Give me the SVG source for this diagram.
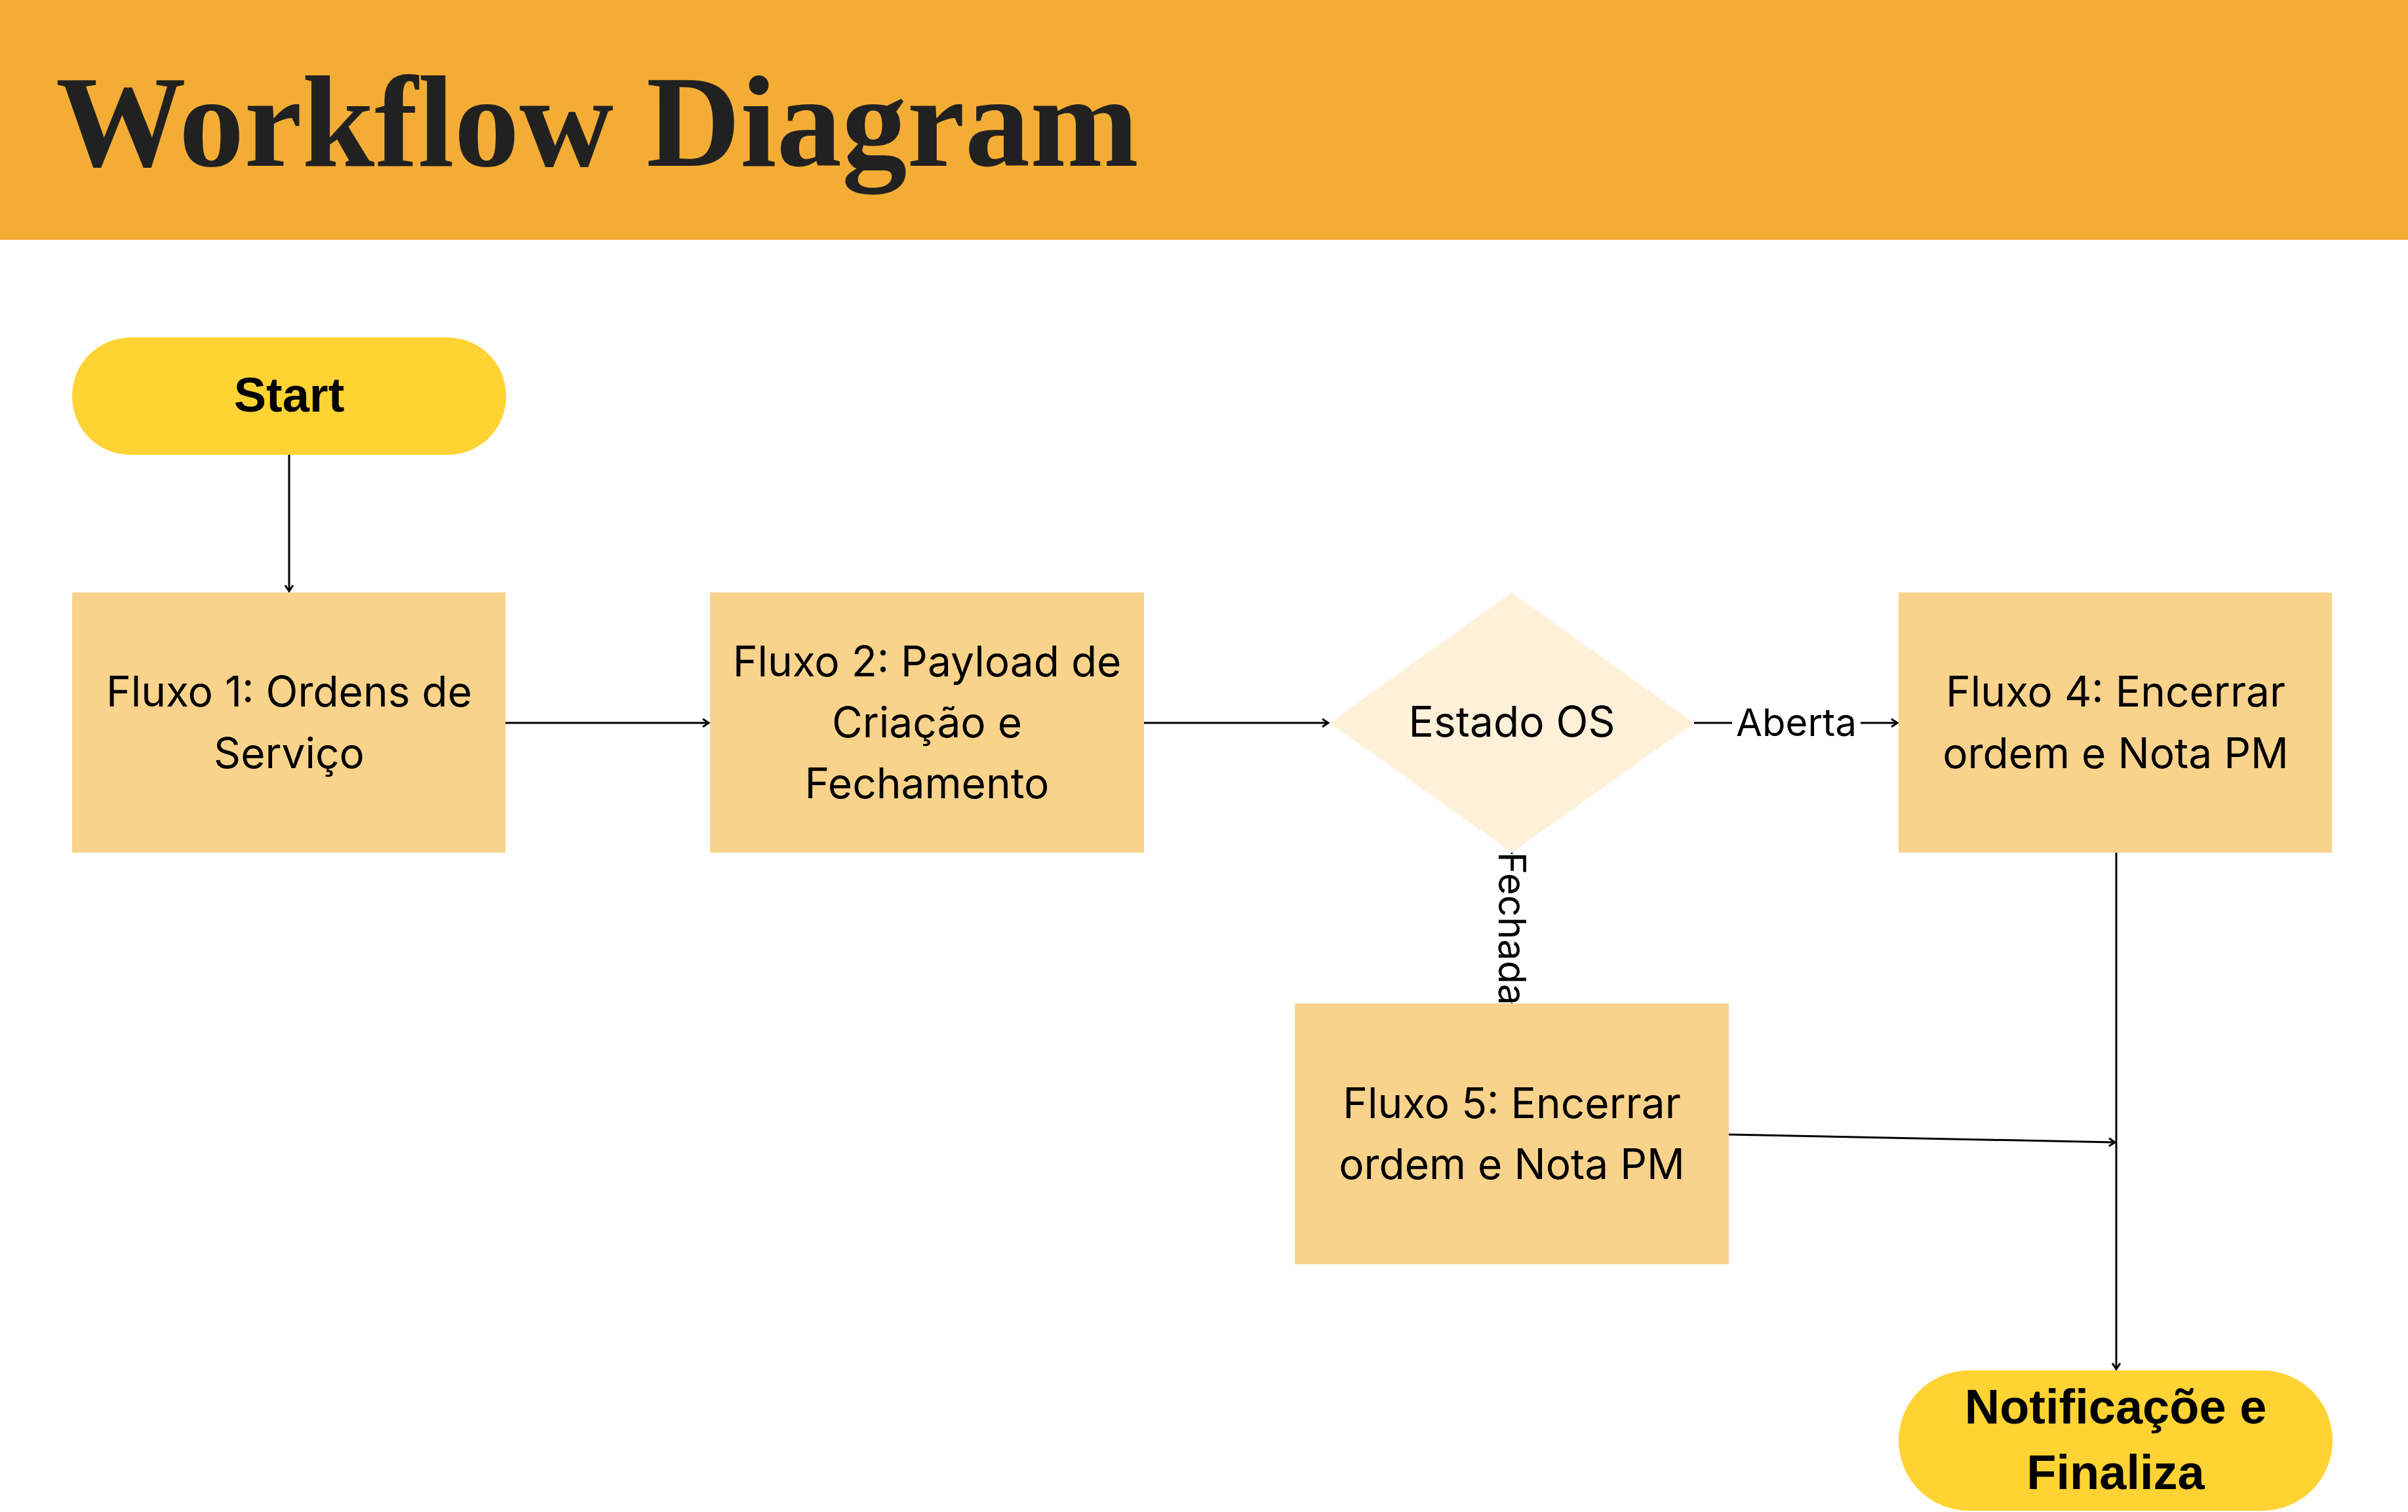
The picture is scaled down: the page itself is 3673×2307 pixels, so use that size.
<svg xmlns="http://www.w3.org/2000/svg" width="3673" height="2307" viewBox="0 0 3673 2307">
<style>
.box{fill:#F9D38B}
.pill{fill:#FFD333}
.dia{fill:#FFF0DA}
.t{font-family:Inter,"Liberation Sans",sans-serif;font-size:64px;fill:#000;text-anchor:middle}
.tb{font-family:"Liberation Sans",Arial,sans-serif;font-weight:bold;font-size:74px;fill:#000;text-anchor:middle}
.lbl{font-family:Inter,"Liberation Sans",sans-serif;font-size:58px;fill:#000;text-anchor:middle}
.c{fill:none;stroke:#000;stroke-width:3;marker-end:url(#ah)}
</style>
<defs>
<marker id="ah" markerUnits="userSpaceOnUse" markerWidth="16" markerHeight="16" refX="12" refY="8" orient="auto">
<path d="M3,2 L12,8 L3,14" fill="none" stroke="#000" stroke-width="3"/>
</marker>
</defs>
<rect width="3673" height="2307" fill="#fff"/>
<g id="header">
<rect x="0" y="0" width="3673" height="366" fill="#F4AD34"/>
<text x="85" y="253" font-family="'Liberation Serif','DejaVu Serif',serif" font-weight="bold" font-size="200" fill="#212121" textLength="1652" lengthAdjust="spacingAndGlyphs">Workflow Diagram</text>
</g>
<g id="connectors">
<path class="c" d="M441,694 L441,902"/>
<path class="c" d="M771,1103 L1081,1103"/>
<path class="c" d="M1745,1103 L2026,1103"/>
<path class="c" d="M2584,1103 L2894,1103"/>
<path class="c" d="M2306,1301 L2306,1529"/>
<path class="c" d="M2637,1731 L3226,1743"/>
<path class="c" d="M3228,1301 L3228,2089"/>
<rect x="2642" y="1070" width="196" height="66" fill="#fff"/>
<text class="lbl" x="2740" y="1123">Aberta</text>
<rect x="2280" y="1303" width="56" height="227" fill="#fff"/>
<text class="lbl" font-size="60" transform="translate(2286,1417) rotate(90)">Fechada</text>
</g>
<g id="start">
<rect class="pill" x="110" y="515" width="662" height="179" rx="89" ry="89"/>
<text class="tb" x="441" y="628">Start</text>
</g>
<g id="fluxo1">
<rect class="box" x="110" y="904" width="661" height="397"/>
<text class="t" x="441" y="1078">Fluxo 1: Ordens de</text>
<text class="t" x="441" y="1172">Serviço</text>
</g>
<g id="fluxo2">
<rect class="box" x="1083" y="904" width="662" height="397"/>
<text class="t" x="1414" y="1032">Fluxo 2: Payload de</text>
<text class="t" x="1414" y="1125">Criação e</text>
<text class="t" x="1414" y="1218">Fechamento</text>
</g>
<g id="estado">
<polygon class="dia" points="2306,904 2584,1103 2306,1301 2028,1103"/>
<text class="t" x="2306" y="1124">Estado OS</text>
</g>
<g id="fluxo4">
<rect class="box" x="2896" y="904" width="661" height="397"/>
<text class="t" x="3227" y="1078">Fluxo 4: Encerrar</text>
<text class="t" x="3227" y="1172">ordem e Nota PM</text>
</g>
<g id="fluxo5">
<rect class="box" x="1975" y="1531" width="662" height="398"/>
<text class="t" x="2306" y="1706">Fluxo 5: Encerrar</text>
<text class="t" x="2306" y="1799">ordem e Nota PM</text>
</g>
<g id="notificacao">
<rect class="pill" x="2896" y="2091" width="662" height="214" rx="107" ry="107"/>
<text class="tb" x="3227" y="2172">Notificaçõe e</text>
<text class="tb" x="3227" y="2272">Finaliza</text>
</g>
</svg>
